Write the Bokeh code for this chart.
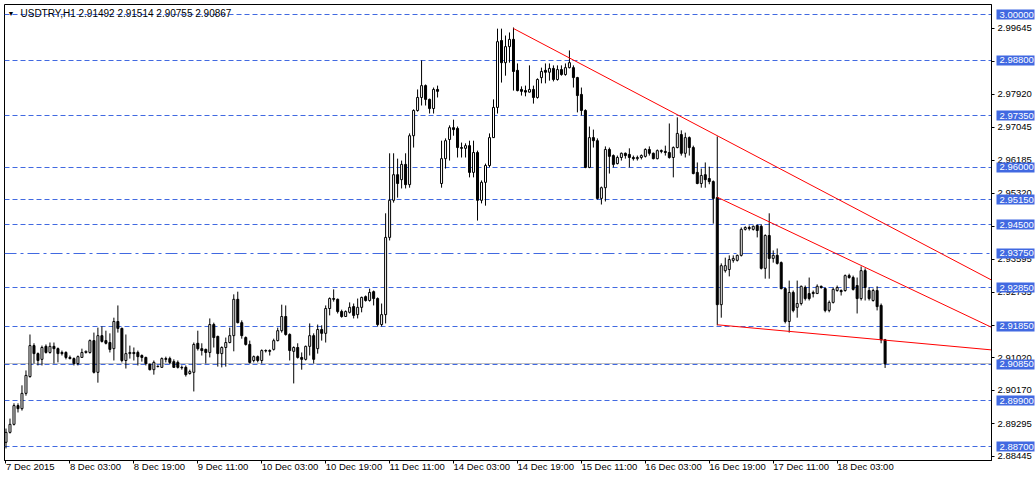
from bokeh.plotting import figure
from bokeh.models import Range1d, FixedTicker, Label, NumeralTickFormatter, ColumnDataSource, LinearAxis
from bokeh.embed import file_html
from bokeh.resources import INLINE

# ---- hourly candles, USDTRY H1 ----
opens = [2.8881, 2.8907, 2.8928, 2.8977, 2.8969, 2.9009, 2.9053, 2.9134, 2.9113, 2.9098,
         2.9132, 2.9116, 2.9132, 2.9126, 2.9116, 2.9116, 2.9103, 2.9100, 2.9087, 2.9103,
         2.9116, 2.9116, 2.9147, 2.9064, 2.9160, 2.9147, 2.9142, 2.9126, 2.9197, 2.9179,
         2.9095, 2.9113, 2.9116, 2.9116, 2.9108, 2.9103, 2.9085, 2.9071, 2.9079, 2.9077,
         2.9100, 2.9100, 2.9092, 2.9090, 2.9077, 2.9077, 2.9061, 2.9064, 2.9140, 2.9126,
         2.9124, 2.9116, 2.9189, 2.9158, 2.9113, 2.9129, 2.9142, 2.9160, 2.9255, 2.9194,
         2.9155, 2.9137, 2.9095, 2.9105, 2.9095, 2.9121, 2.9121, 2.9124, 2.9147, 2.9173,
         2.9210, 2.9163, 2.9119, 2.9129, 2.9103, 2.9098, 2.9132, 2.9160, 2.9126, 2.9176,
         2.9166, 2.9231, 2.9257, 2.9255, 2.9223, 2.9210, 2.9221, 2.9236, 2.9215, 2.9234,
         2.9262, 2.9252, 2.9275, 2.9257, 2.9189, 2.9215, 2.9417, 2.9514, 2.9581, 2.9568,
         2.9608, 2.9555, 2.9683, 2.9749, 2.9783, 2.9814, 2.9778, 2.9754, 2.9804, 2.9558,
         2.9623, 2.9673, 2.9704, 2.9702, 2.9652, 2.9650, 2.9657, 2.9587, 2.9639, 2.9514,
         2.9561, 2.9605, 2.9678, 2.9757, 2.9932, 2.9874, 2.9916, 2.9935, 2.9854, 2.9804,
         2.9801, 2.9797, 2.9804, 2.9783, 2.9835, 2.9854, 2.9849, 2.9859, 2.9830, 2.9856,
         2.9843, 2.9861, 2.9861, 2.9835, 2.9791, 2.9749, 2.9600, 2.9678, 2.9670, 2.9519,
         2.9547, 2.9647, 2.9631, 2.9610, 2.9626, 2.9637, 2.9634, 2.9626, 2.9623, 2.9626,
         2.9629, 2.9647, 2.9637, 2.9623, 2.9644, 2.9642, 2.9639, 2.9626, 2.9652, 2.9686,
         2.9637, 2.9678, 2.9652, 2.9587, 2.9558, 2.9581, 2.9571, 2.9563, 2.9521, 2.9241,
         2.9330, 2.9333, 2.9357, 2.9357, 2.9370, 2.9438, 2.9443, 2.9438, 2.9448, 2.9446,
         2.9336, 2.9422, 2.9362, 2.9370, 2.9351, 2.9283, 2.9197, 2.9273, 2.9234, 2.9244,
         2.9286, 2.9270, 2.9273, 2.9270, 2.9289, 2.9283, 2.9226, 2.9247, 2.9278, 2.9278,
         2.9278, 2.9317, 2.9312, 2.9291, 2.9257, 2.9330, 2.9278, 2.9252, 2.9278, 2.9239,
         2.91492]
highs = [2.8917, 2.8943, 2.8983, 2.8983, 2.9030, 2.9069, 2.9163, 2.9140, 2.9116, 2.9134,
         2.9137, 2.9142, 2.9142, 2.9129, 2.9121, 2.9119, 2.9108, 2.9103, 2.9108, 2.9126,
         2.9121, 2.9150, 2.9168, 2.9181, 2.9184, 2.9173, 2.9166, 2.9207, 2.9239, 2.9181,
         2.9163, 2.9134, 2.9129, 2.9121, 2.9111, 2.9105, 2.9087, 2.9095, 2.9082, 2.9103,
         2.9105, 2.9105, 2.9098, 2.9095, 2.9082, 2.9082, 2.9071, 2.9142, 2.9173, 2.9140,
         2.9126, 2.9205, 2.9194, 2.9160, 2.9132, 2.9155, 2.9181, 2.9268, 2.9275, 2.9200,
         2.9158, 2.9147, 2.9108, 2.9108, 2.9124, 2.9124, 2.9124, 2.9152, 2.9181, 2.9241,
         2.9239, 2.9166, 2.9132, 2.9140, 2.9116, 2.9134, 2.9192, 2.9166, 2.9189, 2.9187,
         2.9239, 2.9260, 2.9281, 2.9257, 2.9228, 2.9226, 2.9247, 2.9244, 2.9257, 2.9262,
         2.9265, 2.9283, 2.9278, 2.9260, 2.9244, 2.9480, 2.9637, 2.9637, 2.9623, 2.9618,
         2.9637, 2.9689, 2.9752, 2.9804, 2.9880, 2.9817, 2.9780, 2.9809, 2.9814, 2.9670,
         2.9676, 2.9710, 2.9725, 2.9707, 2.9665, 2.9663, 2.9670, 2.9670, 2.9644, 2.9566,
         2.9610, 2.9689, 2.9778, 2.9963, 2.9963, 2.9945, 2.9953, 2.9966, 2.9872, 2.9812,
         2.9814, 2.9867, 2.9814, 2.9833, 2.9861, 2.9872, 2.9872, 2.9867, 2.9867, 2.9867,
         2.9872, 2.9906, 2.9867, 2.9837, 2.9809, 2.9752, 2.9707, 2.9699, 2.9676, 2.9550,
         2.9655, 2.9652, 2.9634, 2.9631, 2.9639, 2.9639, 2.9650, 2.9631, 2.9631, 2.9634,
         2.9650, 2.9655, 2.9639, 2.9647, 2.9647, 2.9657, 2.9715, 2.9655, 2.9731, 2.9697,
         2.9691, 2.9681, 2.9657, 2.9613, 2.9597, 2.9613, 2.9602, 2.9566, 2.9681, 2.9349,
         2.9364, 2.9370, 2.9370, 2.9372, 2.9443, 2.9446, 2.9448, 2.9448, 2.9451, 2.9451,
         2.9425, 2.9480, 2.9383, 2.9388, 2.9354, 2.9286, 2.9304, 2.9278, 2.9304, 2.9291,
         2.9291, 2.9312, 2.9278, 2.9294, 2.9291, 2.9286, 2.9252, 2.9286, 2.9291, 2.9281,
         2.9320, 2.9322, 2.9317, 2.9312, 2.9341, 2.9336, 2.9286, 2.9283, 2.9289, 2.9244,
         2.91514]
lows = [2.8865, 2.8904, 2.8925, 2.8959, 2.8964, 2.9003, 2.9050, 2.9087, 2.9082, 2.9082,
        2.9113, 2.9113, 2.9087, 2.9090, 2.9108, 2.9098, 2.9098, 2.9082, 2.9082, 2.9103,
        2.9113, 2.9113, 2.9061, 2.9037, 2.9142, 2.9137, 2.9116, 2.9095, 2.9168, 2.9090,
        2.9074, 2.9100, 2.9095, 2.9082, 2.9092, 2.9082, 2.9069, 2.9058, 2.9077, 2.9077,
        2.9090, 2.9085, 2.9076, 2.9074, 2.9071, 2.9053, 2.9058, 2.9014, 2.9121, 2.9108,
        2.9087, 2.9103, 2.9129, 2.9079, 2.9077, 2.9079, 2.9140, 2.9119, 2.9192, 2.9152,
        2.9134, 2.9087, 2.9090, 2.9090, 2.9087, 2.9116, 2.9108, 2.9121, 2.9145, 2.9168,
        2.9160, 2.9095, 2.9035, 2.9100, 2.9071, 2.9095, 2.9108, 2.9087, 2.9113, 2.9147,
        2.9142, 2.9213, 2.9249, 2.9218, 2.9207, 2.9210, 2.9218, 2.9205, 2.9205, 2.9221,
        2.9249, 2.9249, 2.9239, 2.9184, 2.9184, 2.9192, 2.9409, 2.9508, 2.9521, 2.9545,
        2.9545, 2.9547, 2.9652, 2.9746, 2.9762, 2.9762, 2.9741, 2.9741, 2.9783, 2.9547,
        2.9597, 2.9618, 2.9683, 2.9626, 2.9626, 2.9626, 2.9574, 2.9574, 2.9461, 2.9506,
        2.9500, 2.9600, 2.9678, 2.9741, 2.9822, 2.9840, 2.9874, 2.9801, 2.9799, 2.9788,
        2.9786, 2.9796, 2.9767, 2.9780, 2.9820, 2.9820, 2.9827, 2.9825, 2.9827, 2.9840,
        2.9840, 2.9859, 2.9809, 2.9744, 2.9736, 2.9598, 2.9598, 2.9652, 2.9516, 2.9503,
        2.9511, 2.9584, 2.9600, 2.9608, 2.9618, 2.9623, 2.9600, 2.9618, 2.9618, 2.9621,
        2.9626, 2.9631, 2.9621, 2.9621, 2.9637, 2.9631, 2.9623, 2.9574, 2.9650, 2.9631,
        2.9626, 2.9631, 2.9582, 2.9556, 2.9547, 2.9547, 2.9556, 2.9453, 2.9187, 2.9207,
        2.9325, 2.9315, 2.9351, 2.9354, 2.9367, 2.9435, 2.9435, 2.9435, 2.9417, 2.9333,
        2.9309, 2.9309, 2.9351, 2.9346, 2.9281, 2.9192, 2.9168, 2.9221, 2.9207, 2.9239,
        2.9252, 2.9252, 2.9260, 2.9270, 2.9283, 2.9221, 2.9221, 2.9244, 2.9275, 2.9265,
        2.9275, 2.9309, 2.9278, 2.9218, 2.9252, 2.9252, 2.9252, 2.9249, 2.9226, 2.9140,
        2.90755]
closes = [2.8907, 2.8928, 2.8977, 2.8969, 2.9009, 2.9056, 2.9134, 2.9113, 2.9095, 2.9129,
          2.9116, 2.9132, 2.9126, 2.9113, 2.9113, 2.9103, 2.9100, 2.9087, 2.9105, 2.9116,
          2.9119, 2.9147, 2.9064, 2.9160, 2.9145, 2.9140, 2.9124, 2.9197, 2.9179, 2.9095,
          2.9113, 2.9116, 2.9113, 2.9105, 2.9103, 2.9087, 2.9071, 2.9090, 2.9080, 2.9100,
          2.9098, 2.9090, 2.9077, 2.9077, 2.9076, 2.9058, 2.9066, 2.9137, 2.9126, 2.9121,
          2.9116, 2.9189, 2.9155, 2.9113, 2.9129, 2.9142, 2.9160, 2.9255, 2.9194, 2.9160,
          2.9137, 2.9090, 2.9105, 2.9095, 2.9121, 2.9120, 2.9119, 2.9147, 2.9173, 2.9210,
          2.9163, 2.9121, 2.9129, 2.9103, 2.9098, 2.9132, 2.9160, 2.9098, 2.9176, 2.9166,
          2.9231, 2.9257, 2.9255, 2.9223, 2.9210, 2.9223, 2.9234, 2.9213, 2.9234, 2.9260,
          2.9252, 2.9273, 2.9257, 2.9189, 2.9215, 2.9417, 2.9514, 2.9581, 2.9558, 2.9608,
          2.9555, 2.9683, 2.9749, 2.9783, 2.9814, 2.9778, 2.9754, 2.9804, 2.9799, 2.9623,
          2.9670, 2.9704, 2.9699, 2.9652, 2.9650, 2.9657, 2.9587, 2.9639, 2.9514, 2.9561,
          2.9605, 2.9678, 2.9757, 2.9929, 2.9874, 2.9916, 2.9935, 2.9851, 2.9801, 2.9799,
          2.9797, 2.9804, 2.9783, 2.9830, 2.9851, 2.9849, 2.9859, 2.9830, 2.9856, 2.9843,
          2.9861, 2.9874, 2.9835, 2.9788, 2.9749, 2.9600, 2.9678, 2.9670, 2.9519, 2.9547,
          2.9647, 2.9629, 2.9608, 2.9626, 2.9637, 2.9631, 2.9626, 2.9623, 2.9626, 2.9631,
          2.9647, 2.9637, 2.9623, 2.9644, 2.9642, 2.9639, 2.9626, 2.9652, 2.9689, 2.9637,
          2.9678, 2.9652, 2.9584, 2.9558, 2.9579, 2.9568, 2.9563, 2.9519, 2.9241, 2.9343,
          2.9343, 2.9359, 2.9362, 2.9370, 2.9438, 2.9443, 2.9440, 2.9446, 2.9435, 2.9336,
          2.9422, 2.9362, 2.9370, 2.9349, 2.9283, 2.9197, 2.9273, 2.9226, 2.9244, 2.9289,
          2.9257, 2.9257, 2.9270, 2.9289, 2.9286, 2.9226, 2.9247, 2.9281, 2.9286, 2.9275,
          2.9317, 2.9312, 2.9281, 2.9257, 2.9330, 2.9286, 2.9257, 2.9278, 2.9236, 2.9149,
          2.90867]

tick_bars = [0, 16, 32, 48, 64, 80, 96, 112, 128, 144, 160, 176, 192, 208]
tick_labels = ["7 Dec 2015", "8 Dec 03:00", "8 Dec 19:00", "9 Dec 11:00", "10 Dec 03:00",
               "10 Dec 19:00", "11 Dec 11:00", "14 Dec 03:00", "14 Dec 19:00", "15 Dec 11:00",
               "16 Dec 03:00", "16 Dec 19:00", "17 Dec 11:00", "18 Dec 03:00"]
price_ticks = [2.99645, 2.98780, 2.97920, 2.97045, 2.96185, 2.95320, 2.94460, 2.93595,
               2.92735, 2.91870, 2.91020, 2.90170, 2.89295, 2.88445]
dash_levels = [3.00000, 2.98800, 2.97350, 2.96000, 2.95150, 2.94500, 2.92850, 2.91850,
               2.90850, 2.89900, 2.88700]
dashdot_levels = [2.93750]
bid_price = [2.90867]
trend_x0 = [127, 178, 178]
trend_p0 = [2.99634, 2.95221, 2.91884]
trend_x1 = [246.625, 246.625, 246.625]
trend_p1 = [2.93055, 2.91818, 2.91227]
header_text = "USDTRY,H1  2.91492 2.91514 2.90755 2.90867"

BLUE = "#4169E1"
FONT = "Liberation Sans"
X0, X1 = -0.375, 246.625
Y0, Y1 = 2.88334, 3.00262

bars = list(range(len(opens)))
src = ColumnDataSource(dict(
    x=bars, o=opens, h=highs, l=lows, c=closes,
    top=[max(o, c) for o, c in zip(opens, closes)],
    bottom=[min(o, c) for o, c in zip(opens, closes)],
    fill=["white" if c >= o else "black" for o, c in zip(opens, closes)],
))

p = figure(width=1036, height=483, x_range=Range1d(X0, X1), y_range=Range1d(Y0, Y1),
           y_axis_location=None, output_backend="svg", toolbar_location=None,
           min_border_left=4, min_border_top=4, min_border_right=44, min_border_bottom=23,
           background_fill_color="white", border_fill_color="white",
           outline_line_color="black", outline_line_width=1)
p.xgrid.visible = False
p.ygrid.visible = False

# time axis (labels start at the tick, MT4 style)
p.xaxis.ticker = FixedTicker(ticks=tick_bars)
p.xaxis.major_label_overrides = {b: t for b, t in zip(tick_bars, tick_labels)}
p.xaxis.major_label_orientation = -0.0001
p.xaxis.major_label_text_font = FONT
p.xaxis.major_label_text_font_size = "9.5px"
p.xaxis.major_label_text_color = "black"
p.xaxis.major_tick_out = 3
p.xaxis.major_tick_in = 0
p.xaxis.minor_tick_line_color = None
p.xaxis.axis_line_color = "black"
p.xaxis.major_label_standoff = 3

# price axis at the right edge of the chart
price_axis = LinearAxis(ticker=FixedTicker(ticks=price_ticks),
                        formatter=NumeralTickFormatter(format="0.00000"),
                        axis_line_color="black",
                        major_tick_in=0, major_tick_out=3, minor_tick_line_color=None,
                        major_label_standoff=3, major_label_text_font=FONT,
                        major_label_text_font_size="9.5px", major_label_text_color="black")
p.add_layout(price_axis, "right")

# highlighted level prices (blue boxes with white text), stacked just outside the price axis
# and drawing its boxes back towards the chart
level_axis = LinearAxis(ticker=FixedTicker(ticks=dash_levels + dashdot_levels),
                        formatter=NumeralTickFormatter(format="0.00000"),
                        axis_line_color=None,
                        major_tick_in=38, major_tick_out=0, major_tick_line_width=10,
                        major_tick_line_color=BLUE, minor_tick_line_color=None,
                        major_label_standoff=-35, major_label_text_font=FONT,
                        major_label_text_font_size="9.5px", major_label_text_color="white")
p.add_layout(level_axis, "right")

# horizontal levels
p.hspan(y=dash_levels, line_color=BLUE, line_width=1, line_dash="5 3")
p.hspan(y=dashdot_levels, line_color=BLUE, line_width=1, line_dash="12 4 3 4")
p.hspan(y=bid_price, line_color="#C0C0C0", line_width=1)

# candles
p.segment(x0="x", y0="h", x1="x", y1="l", source=src, line_color="black", line_width=1)
p.vbar(x="x", width=0.5, top="top", bottom="bottom", fill_color="fill",
       line_color="black", line_width=1, source=src)

# trend lines
p.segment(x0=trend_x0, y0=trend_p0, x1=trend_x1, y1=trend_p1, line_color="#FF0000", line_width=1)

# header
p.add_layout(Label(x=X0, y=Y1, x_offset=3, y_offset=-8.5, text="\u25BC", text_font=FONT,
                   text_font_size="7px", text_color="black", text_baseline="middle"))
p.add_layout(Label(x=X0, y=Y1, x_offset=16, y_offset=-8.5, text=header_text, text_font=FONT,
                   text_font_size="10px", text_color="black", text_baseline="middle"))

open("out.html", "w").write(file_html(p, INLINE))
